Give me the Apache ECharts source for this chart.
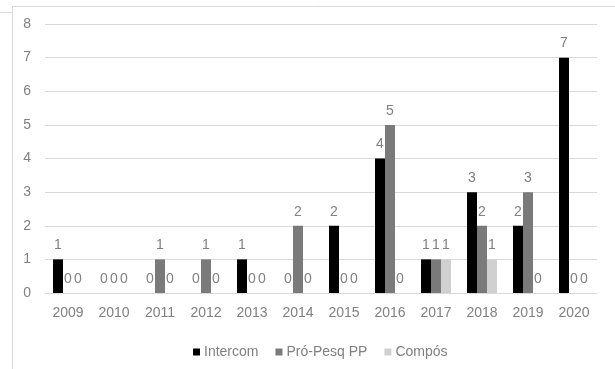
<!DOCTYPE html>
<html><head><meta charset="utf-8">
<script src="https://cdn.jsdelivr.net/npm/echarts@6/dist/echarts.min.js"></script>
<style>html,body{margin:0;padding:0;background:#fff}#c{width:615px;height:369px}</style>
</head><body><div id="c"></div>
<script>
const categories = ['2009','2010','2011','2012','2013','2014','2015','2016','2017','2018','2019','2020'];
const intercom = [1,0,0,0,1,0,2,4,1,3,2,7];
const proPesq = [0,0,1,1,0,2,0,5,1,2,3,0];
const compos = [0,0,0,0,0,0,0,0,1,1,0,0];
const seriesNames = ['Intercom','Pró-Pesq PP','Compós'];
const yTicks = {min:0, max:8, interval:1};

const font = 'Liberation Sans';
const txt = '#808080';
const fs = 14;
const chart = echarts.init(document.getElementById('c'));
function s(name, data, color){
  return {name, type:'bar', data, barWidth:10, barGap:'0%',
    itemStyle:{color},
    label:{show:true, position:'top', color:txt, fontSize:fs, fontFamily:font, distance:7}};
}
chart.setOption({
  animation:false,
  textStyle:{fontFamily:font},
  graphic:[
    {type:'line', shape:{x1:12.5,y1:6,x2:12.5,y2:369}, style:{stroke:'#d9d9d9',lineWidth:1}},
    {type:'line', shape:{x1:12,y1:6.5,x2:615,y2:6.5}, style:{stroke:'#d9d9d9',lineWidth:1}},
    {type:'line', shape:{x1:0,y1:12.5,x2:12,y2:12.5}, style:{stroke:'#d9d9d9',lineWidth:1}}
  ],
  grid:{left:45, right:18, top:24, bottom:76},
  legend:{top:340, left:188, itemWidth:7, itemHeight:7, itemGap:17, icon:'rect',
    textStyle:{color:txt, fontSize:fs, fontFamily:font, padding:[0,0,0,-1]}, data:seriesNames},
  xAxis:{type:'category', data:categories,
    axisLine:{show:true, lineStyle:{color:'#d9d9d9'}}, axisTick:{show:false},
    axisLabel:{color:txt, fontSize:fs, fontFamily:font, margin:13}},
  yAxis:{type:'value', min:yTicks.min, max:yTicks.max, interval:yTicks.interval,
    axisLine:{show:false}, axisTick:{show:false},
    splitLine:{lineStyle:{color:'#d9d9d9'}},
    axisLabel:{color:txt, fontSize:fs, fontFamily:font, margin:14}},
  series:[s(seriesNames[0], intercom, '#000000'), s(seriesNames[1], proPesq, '#7a7a7a'), s(seriesNames[2], compos, '#d0d0d0')]
});
</script></body></html>
